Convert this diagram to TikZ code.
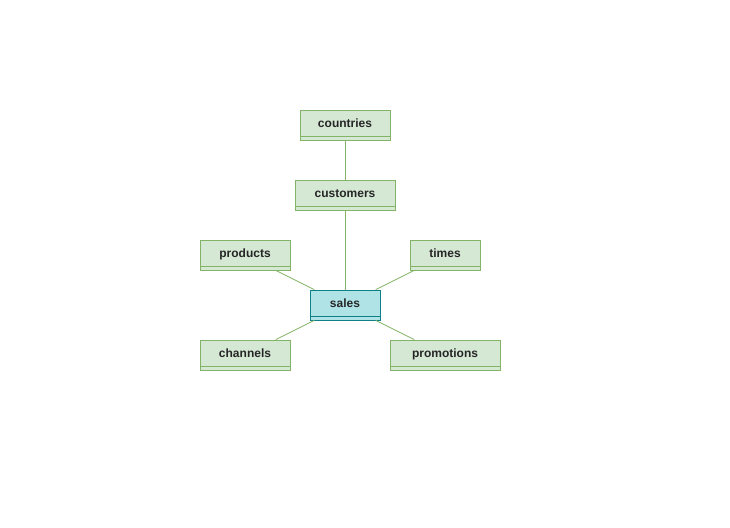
\documentclass[tikz,border=0pt]{standalone}
\usepackage{fontspec}
\setmainfont{Liberation Sans}
\definecolor{gfill}{HTML}{D5E8D4}
\definecolor{gline}{HTML}{82B366}
\definecolor{tfill}{HTML}{B0E3E6}
\definecolor{tline}{HTML}{0E8088}
\tikzset{
  tbl/.style={draw=gline, fill=gfill, minimum height=30pt, inner sep=0pt, line width=0.8pt,
    path picture={\draw[gline, line width=0.8pt] ([yshift=4pt]path picture bounding box.south west) -- ([yshift=4pt]path picture bounding box.south east);}},
  facttbl/.style={tbl, draw=tline, fill=tfill,
    path picture={\draw[tline, line width=0.8pt] ([yshift=4pt]path picture bounding box.south west) -- ([yshift=4pt]path picture bounding box.south east);}},
  lbl/.style={font=\fontsize{12}{14}\selectfont\bfseries, text=black!85, inner sep=0pt, anchor=base},
  conn/.style={draw=gline, line width=0.8pt},
}
\begin{document}
\begin{tikzpicture}[x=1pt,y=-1pt]
\useasboundingbox[fill=white] (0,0) rectangle (730,527);
\node[tbl, minimum width=90pt] (countries) at (345,125) {};
\node[tbl, minimum width=100pt] (customers) at (345,195) {};
\node[tbl, minimum width=90pt] (products) at (245,255) {};
\node[tbl, minimum width=70pt] (times) at (445,255) {};
\node[facttbl, minimum width=70pt] (sales) at (345,305) {};
\node[tbl, minimum width=90pt] (channels) at (245,355) {};
\node[tbl, minimum width=110pt] (promotions) at (445,355) {};
\foreach \n/\t in {countries/countries, customers/customers, products/products, times/times, sales/sales, channels/channels, promotions/promotions}
  \node[lbl] (\n-l) at ([yshift=-2.5pt]\n.center) {\t};
\draw[conn] (countries) -- (customers);
\draw[conn] (customers) -- (sales);
\draw[conn] (products) -- (sales);
\draw[conn] (times) -- (sales);
\draw[conn] (channels) -- (sales);
\draw[conn] (promotions) -- (sales);
\end{tikzpicture}
\end{document}
